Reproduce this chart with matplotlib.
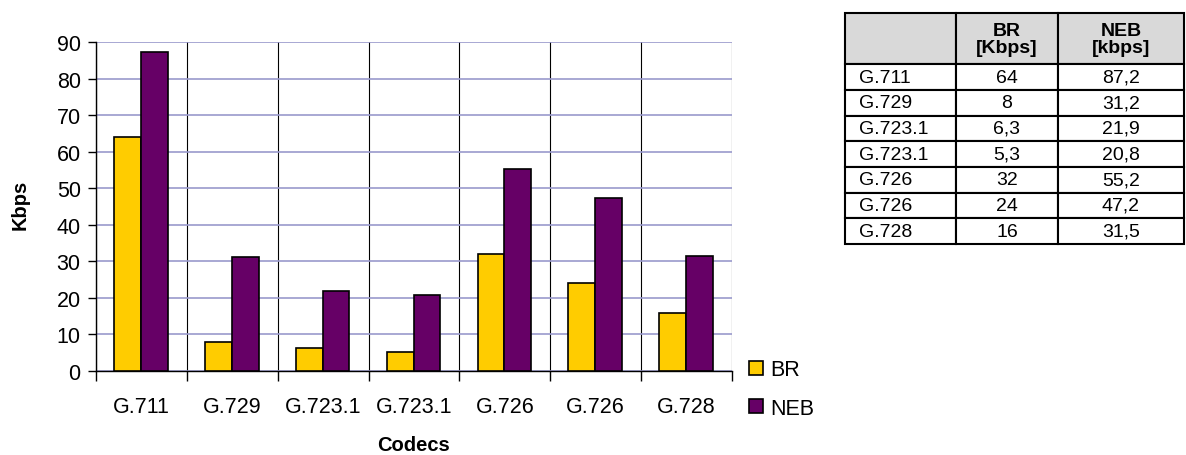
import matplotlib
matplotlib.use("Agg")
import matplotlib.pyplot as plt
import numpy as np
from matplotlib.patches import Patch

plt.rcParams['font.family'] = ['Liberation Sans', 'DejaVu Sans']

# ----- DATA -----
codecs = ["G.711", "G.729", "G.723.1", "G.723.1", "G.726", "G.726", "G.728"]
br = [64, 8, 6.3, 5.3, 32, 24, 16]
neb = [87.2, 31.2, 21.9, 20.8, 55.2, 47.2, 31.5]
br_txt = ["64", "8", "6,3", "5,3", "32", "24", "16"]
neb_txt = ["87,2", "31,2", "21,9", "20,8", "55,2", "47,2", "31,5"]
col_labels = ["", "BR\n[Kbps]", "NEB\n[kbps]"]

BR_COLOR = "#FFCC00"
NEB_COLOR = "#660066"
W, H = 1186, 456

fig = plt.figure(figsize=(W / 100, H / 100), dpi=100)
ax = fig.add_axes([96 / W, 1 - 372 / H, (732 - 96) / W, (372 - 43) / H])

x = np.arange(len(codecs))
bw = 0.295
ax.bar(x - 0.005 - bw / 2, br, bw, color=BR_COLOR, edgecolor="black", lw=1.2, zorder=3)
ax.bar(x - 0.005 + bw / 2, neb, bw, color=NEB_COLOR, edgecolor="black", lw=1.2, zorder=3)

ax.set_xlim(-0.5, len(codecs) - 0.5)
ax.set_ylim(0, 90)
ax.set_yticks(range(0, 91, 10))
ax.set_xticks(x)
ax.set_xticklabels(codecs, fontsize=15.5)
ax.set_xticks(np.arange(len(codecs) + 1) - 0.5, minor=True)
ax.tick_params(axis="x", which="major", length=0, pad=18)
ax.tick_params(axis="x", which="minor", length=7, width=1, color="black")
ax.tick_params(axis="y", labelsize=15.5, length=6, width=1, pad=5)

ax.grid(axis="y", color="#9999cc", lw=1.2, zorder=0)
ax.grid(axis="x", which="minor", color="black", lw=0.8, zorder=0)
ax.set_axisbelow(True)
for s in ["top", "right"]:
    ax.spines[s].set_visible(False)
ax.spines["left"].set_linewidth(1)
ax.spines["bottom"].set_linewidth(1)

fig.text(20 / W, 1 - 205 / H, "Kbps", rotation=90, fontsize=14.5, fontweight="bold",
         ha="center", va="center")
fig.text(413 / W, 1 - 446 / H, "Codecs", fontsize=14.5, fontweight="bold",
         ha="center", va="center")

handles = [Patch(facecolor=BR_COLOR, edgecolor="black", lw=1.2),
           Patch(facecolor=NEB_COLOR, edgecolor="black", lw=1.2)]
fig.legend(handles, ["BR", "NEB"], loc="center left",
           bbox_to_anchor=(749 / W, 1 - 390 / H), frameon=False, fontsize=15.5,
           borderpad=0, borderaxespad=0,
           handlelength=0.65, handleheight=0.65, handletextpad=0.35, labelspacing=0.8)

# ----- TABLE -----
tax = fig.add_axes([845 / W, 1 - 245 / H, (1184 - 845) / W, (245 - 14) / H])
tax.axis("off")
cells = [[c, b, n] for c, b, n in zip(codecs, br_txt, neb_txt)]
tbl = tax.table(cellText=cells, colLabels=col_labels, bbox=[0, 0, 1, 1],
                colWidths=[111, 102, 126])
tbl.auto_set_font_size(False)
tbl.set_fontsize(14)
for (r, c), cell in tbl.get_celld().items():
    cell.set_linewidth(1.5)
    cell.set_edgecolor("black")
    if r == 0:
        cell.set_height(2.0)
        cell.set_facecolor("#d9d9d9")
        cell.get_text().set_fontweight("bold")
        cell.get_text().set_linespacing(1.0)
        cell._loc = "center"
    else:
        cell.set_height(1.0)
        if c == 0:
            cell._loc = "left"
            cell.PAD = 0.13
        else:
            cell._loc = "center"
    cell.get_text().set_ha(cell._loc)

fig.savefig("out.png", dpi=100)
